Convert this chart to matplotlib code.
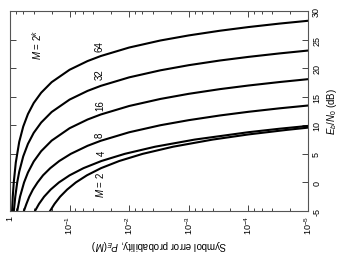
import matplotlib
matplotlib.use('Agg')
import matplotlib.pyplot as plt
from matplotlib.ticker import LogLocator, NullFormatter

plt.rcParams['font.family'] = ['Liberation Sans', 'DejaVu Sans']
plt.rcParams['mathtext.fontset'] = 'custom'
plt.rcParams['mathtext.rm'] = 'Liberation Sans'
plt.rcParams['mathtext.it'] = 'Liberation Sans:italic'

# Eb/N0 (dB) and symbol error probability
ebno_2 = [-5, -3.75, -2.5, -1.25, 0, 1.25, 2.5, 3.75, 5, 6.25, 7.5, 8.4, 9.2, 9.59]
pe_2 = [0.213, 0.179, 0.1445, 0.110, 0.0786, 0.0512, 0.0297, 0.0147, 5.95e-3, 1.84e-3,
        3.98e-4, 1.0e-4, 2.26e-5, 1.0e-5]

ebno_4 = [-5, -3.75, -2.5, -1.25, 0, 1.25, 2.5, 3.75, 5, 6.25, 7.5, 8.79, 9.4, 9.89]
pe_4 = [0.381, 0.326, 0.268, 0.208, 0.151, 0.0998, 0.0585, 0.0293, 0.0119, 3.68e-3,
        7.96e-4, 1.0e-4, 3.0e-5, 1.0e-5]

ebno_8 = [-5, -3.75, -2.5, -1.25, 0, 1.25, 2.5, 3.75, 5, 6.41, 7.29, 8.78, 10.01, 10.9,
          11.72, 12.36, 12.97, 13.46]
pe_8 = [0.585, 0.53, 0.475, 0.413, 0.345, 0.279, 0.211, 0.149, 0.0956, 0.05, 0.03, 0.01,
        3e-3, 1e-3, 3e-4, 1e-4, 3e-5, 1e-5]

ebno_16 = [-5, -2.5, 0, 1.74, 3.67, 5.47, 7.32, 9.49, 11.01, 11.89, 13.38, 14.61, 15.51,
           16.33, 16.96, 17.57, 18.07]
pe_16 = [0.756, 0.679, 0.581, 0.5, 0.4, 0.3, 0.2, 0.1, 0.05, 0.03, 0.01, 3e-3, 1e-3,
         3e-4, 1e-4, 3e-5, 1e-5]

ebno_32 = [-5, -2.5, 0, 1.89, 4.56, 6.75, 8.68, 10.48, 12.33, 14.5, 16.02, 16.9, 18.39,
           19.62, 20.52, 21.34, 21.97, 22.58, 23.08]
pe_32 = [0.862, 0.816, 0.757, 0.7, 0.6, 0.5, 0.4, 0.3, 0.2, 0.1, 0.05, 0.03, 0.01, 3e-3,
         1e-3, 3e-4, 1e-4, 3e-5, 1e-5]

ebno_64 = [-5, -2.5, 0, 3.47, 7.11, 9.78, 11.97, 13.9, 15.7, 17.55, 19.72, 21.24, 22.12,
           23.61, 24.84, 25.73, 26.55, 27.19, 27.8, 28.29]
pe_64 = [0.923, 0.899, 0.865, 0.8, 0.7, 0.6, 0.5, 0.4, 0.3, 0.2, 0.1, 0.05, 0.03, 0.01,
         3e-3, 1e-3, 3e-4, 1e-4, 3e-5, 1e-5]

curves = [(ebno_2, pe_2), (ebno_4, pe_4), (ebno_8, pe_8),
          (ebno_16, pe_16), (ebno_32, pe_32), (ebno_64, pe_64)]

pe_ticks = [1, 1e-1, 1e-2, 1e-3, 1e-4, 1e-5]
pe_tick_labels = ['1', '$10^{-1}$', '$10^{-2}$', '$10^{-3}$', '$10^{-4}$', '$10^{-5}$']
ebno_ticks = [-5, 0, 5, 10, 15, 20, 25, 30]


def main():
    fig = plt.figure(figsize=(3.38, 2.55), dpi=100)
    ax = fig.add_axes([0.0296, 0.1686, 0.8816, 0.7843])

    # figure is drawn turned on its side: Pe runs along x, Eb/N0 up the right
    for ebno, pe in curves:
        ax.plot(pe, ebno, '-', color='black', lw=1.5)

    ax.set_xscale('log')
    ax.set_xlim(1, 1e-5)
    ax.set_ylim(-5, 30)

    ax.set_xticks(pe_ticks)
    ax.set_xticklabels(pe_tick_labels, rotation=90)
    ax.xaxis.set_minor_locator(LogLocator(base=10, subs=(2, 4, 6, 8), numticks=20))
    ax.xaxis.set_minor_formatter(NullFormatter())

    ax.yaxis.tick_right()
    ax.yaxis.set_label_position('right')
    ax.set_yticks(ebno_ticks)
    ax.set_yticklabels([str(t) for t in ebno_ticks], rotation=90, va='center')

    ax.tick_params(which='both', direction='in', top=True, bottom=True, left=True,
                   right=True, labelleft=False, labelright=True, labelsize=6.5,
                   color='#444444', width=0.7)
    ax.tick_params(which='major', length=4, pad=3)
    ax.tick_params(which='minor', length=2.5)
    for sp in ax.spines.values():
        sp.set_color('#555555')
        sp.set_linewidth(0.8)

    ax.set_xlabel('Symbol error probability, $P_E(M)$', rotation=180, fontsize=7, labelpad=2)
    ax.set_ylabel('$E_b/N_0$ (dB)', rotation=90, fontsize=7, labelpad=3)

    # curve labels
    ax.text(0.031, 23.9, '64', rotation=90, ha='center', va='center', fontsize=7)
    ax.text(0.031, 19.0, '32', rotation=90, ha='center', va='center', fontsize=7)
    ax.text(0.031, 13.7, '16', rotation=90, ha='center', va='center', fontsize=7)
    ax.text(0.031, 8.5, '8', rotation=90, ha='center', va='center', fontsize=7)
    ax.text(0.0286, 5.3, '4', rotation=90, ha='center', va='center', fontsize=7)
    ax.text(0.031, -0.3, '$M$ = 2', rotation=90, ha='center', va='center', fontsize=7)
    ax.text(0.352, 24.2, '$M$ = $2^k$', rotation=90, ha='center', va='center', fontsize=7)

    fig.savefig('out.png', dpi=100)


if __name__ == "__main__":
    main()
